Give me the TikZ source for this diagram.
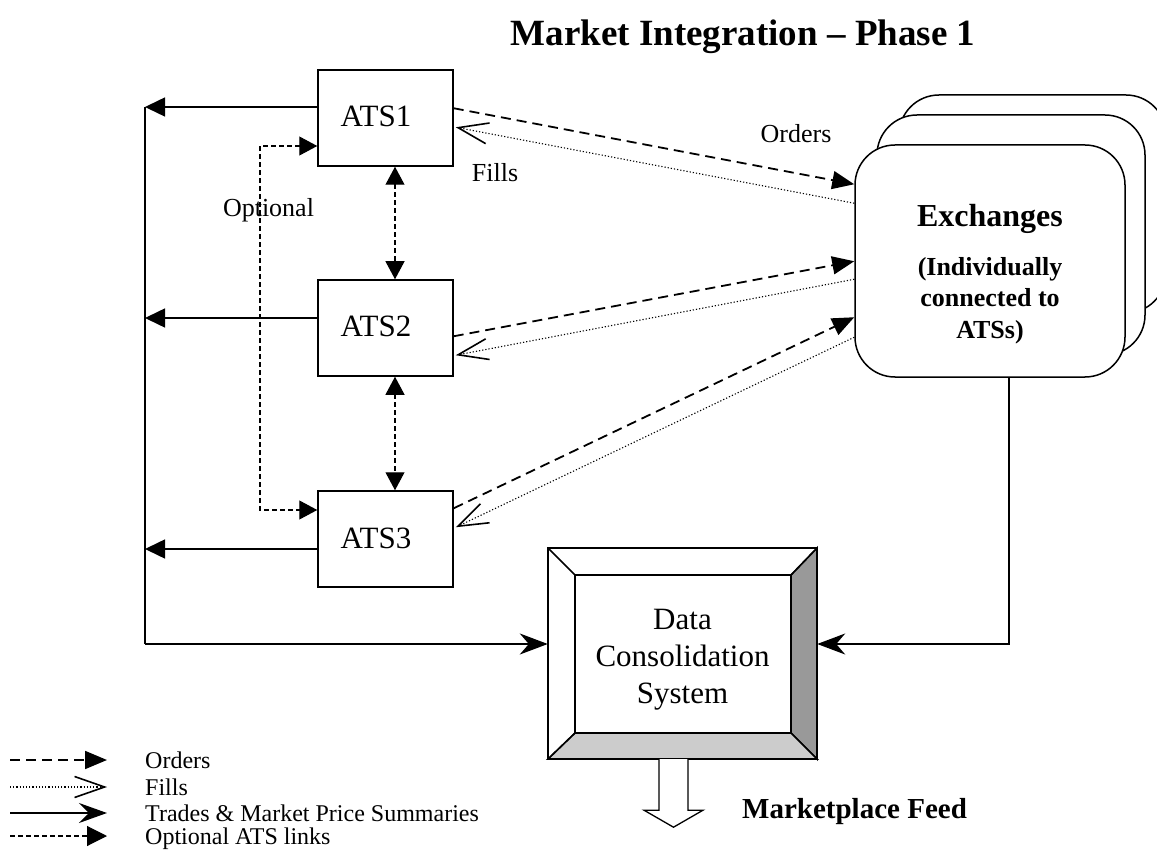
\documentclass[tikz,border=0pt]{standalone}
\usepackage{fontspec}
\setmainfont{Liberation Serif}
\usetikzlibrary{arrows.meta,calc}
\begin{document}
\begin{tikzpicture}[x=1pt,y=-1pt,
  atsbox/.style={draw,line width=1.5pt,minimum width=135pt,minimum height=96pt,inner sep=0pt},
  atslbl/.style={font=\fontsize{31}{36}\selectfont,inner sep=0pt,anchor=base},
  lbl/.style={font=\fontsize{26}{30}\selectfont,inner sep=0pt,anchor=base},
  legtxt/.style={font=\fontsize{24}{28}\selectfont,inner sep=0pt,anchor=base west},
  exbox/.style={draw,line width=1.5pt,fill=white,rounded corners=40pt},
  orders/.style={line width=1.8pt,dash pattern=on 10pt off 6pt,-{Triangle[length=22pt,width=18pt]}},
  fills/.style={line width=1.1pt,dash pattern=on 1.2pt off 2pt,-{Straight Barb[length=30pt,width=21pt,line width=1.6pt]}},
  trades/.style={line width=1.5pt,-{Stealth[length=28pt,width=21pt,inset=9pt]}},
  tradesl/.style={line width=1.5pt,-{Triangle[length=20pt,width=19pt]}},
  optl/.style={line width=1.1pt,dash pattern=on 5pt off 3pt},
  opthead/.style={{Triangle[length=18pt,width=19pt]}-{Triangle[length=18pt,width=19pt]}},
]
\useasboundingbox (0,0) rectangle (1157,850);

% title
\node[font=\bfseries\fontsize{37}{44}\selectfont,inner sep=0pt,anchor=base] (title) at (743,46) {Market Integration \textendash{} Phase 1};

% ATS boxes
\node[atsbox] (ats1) at (385.5,118) {};
\node[atsbox] (ats2) at (385.5,328) {};
\node[atsbox] (ats3) at (385.5,539) {};
\node[atslbl] (t1) at (376,127) {ATS1};
\node[atslbl] (t2) at (376,337) {ATS2};
\node[atslbl] (t3) at (376,548) {ATS3};

% Exchanges stack
\draw[exbox] (899,95) rectangle (1166,313);
\draw[exbox] (877,115) rectangle (1145,355);
\node[exbox,minimum width=270pt,minimum height=232pt,inner sep=0pt] (exch) at (990,261) {};
\node[font=\bfseries\fontsize{32}{38}\selectfont,inner sep=0pt,anchor=base] (ext) at (990,227) {Exchanges};
\node[font=\bfseries\fontsize{26}{31.5}\selectfont,inner sep=0pt,anchor=north,align=center] (exs) at (990,257) {(Individually\\connected to\\ATSs)};

% Data consolidation system (bevelled box)
\node[minimum width=269pt,minimum height=211pt,inner sep=0pt,align=center,
      font=\fontsize{31}{37}\selectfont] (dcs) at (682.5,653.5) {\rule{0pt}{33pt}Data\\Consolidation\\System};
\coordinate (i1) at ($(dcs.north west)+(27,27)$);
\coordinate (i2) at ($(dcs.north east)+(-26,27)$);
\coordinate (i3) at ($(dcs.south east)+(-26,-26)$);
\coordinate (i4) at ($(dcs.south west)+(27,-26)$);
\draw[line width=1.5pt,fill=black!40] (dcs.north east) -- (dcs.south east) -- (i3) -- (i2) -- cycle;
\draw[line width=1.5pt,fill=black!20] (dcs.south west) -- (dcs.south east) -- (i3) -- (i4) -- cycle;
\draw[line width=1.5pt] (dcs.north west) rectangle (dcs.south east);
\draw[line width=1.5pt] (i1) rectangle (i3);
\draw[line width=1.5pt] (dcs.north west) -- (i1) (dcs.north east) -- (i2) (dcs.south west) -- (i4);

% hollow output arrow
\coordinate (fa) at ($(dcs.south)+(-9,0)$);
\draw[line width=1.3pt,fill=white] ($(fa)+(-14.5,0)$) -- ++(0,51) -- ++(-15,0) -- ($(fa)+(0,68)$) -- ($(fa)+(29.5,51)$) -- ++(-15,0) -- ($(fa)+(14.5,0)$);
\node[font=\bfseries\fontsize{29}{34}\selectfont,inner sep=0pt,anchor=base west] (mf) at (742,818) {Marketplace Feed};

% trades to the left bus
\coordinate (l1) at (145,107);
\coordinate (l2) at (145,318);
\coordinate (l3) at (145,549);
\coordinate (lb) at (145,644);
\draw[tradesl] (ats1.west |- l1) -- (l1);
\draw[tradesl] (ats2.west |- l2) -- (l2);
\draw[tradesl] (ats3.west |- l3) -- (l3);
\draw[line width=1.5pt] (l1) -- (lb);
\draw[trades] (lb) -- (lb -| dcs.west);
\coordinate (rb) at (1009,644);
\draw[trades] (exch.south -| rb) -- (rb) -- (rb -| dcs.east);

% ATS links
\coordinate (vx) at (395,0);
\draw[optl,opthead] (ats1.south -| vx) -- (ats2.north -| vx);
\draw[optl,opthead] (ats2.south -| vx) -- (ats3.north -| vx);
\coordinate (o1) at (260,146);
\coordinate (o3) at (260,510);
\draw[optl,opthead] (ats1.west |- o1) -- (o1) -- (o3) -- (ats3.west |- o3);
\node[lbl] (optlbl) at (268.5,217) {Optional};

% orders and fills
\draw[orders] ($(ats1.north east)+(0,39)$) -- ($(exch.north west)+(0,40)$);
\draw[fills] ($(exch.north west)+(0,59)$) -- ($(ats1.north east)+(2,58)$);
\draw[orders] ($(ats2.north east)+(0,57)$) -- ($(exch.north west)+(0,117)$);
\draw[fills] ($(exch.north west)+(0,135)$) -- ($(ats2.north east)+(2,76)$);
\draw[orders] ($(ats3.north east)+(0,18)$) -- ($(exch.north west)+(0,173)$);
\draw[fills] ($(exch.north west)+(0,193)$) -- ($(ats3.north east)+(2,37)$);
\node[lbl] (ordlbl) at (796,143) {Orders};
\node[lbl] (filllbl) at (495,182) {Fills};

% legend
\coordinate (g1a) at (10,760); \coordinate (g1b) at (107,760);
\coordinate (g2a) at (10,787); \coordinate (g2b) at (107,787);
\coordinate (g3a) at (10,813); \coordinate (g3b) at (107,813);
\coordinate (g4a) at (10,836); \coordinate (g4b) at (107,836);
\draw[orders] (g1a) -- (g1b);
\draw[fills] (g2a) -- (g2b);
\draw[line width=1.5pt,-{Stealth[length=28pt,width=20pt,inset=10pt]}] (g3a) -- (g3b);
\draw[optl,-{Triangle[length=20pt,width=20pt]}] (g4a) -- (g4b);
\node[legtxt] (lg1) at (145,768) {Orders};
\node[legtxt] (lg2) at (145,795) {Fills};
\node[legtxt] (lg3) at (145,821) {Trades \& Market Price Summaries};
\node[legtxt] (lg4) at (145,844) {Optional ATS links};
\end{tikzpicture}
\end{document}
